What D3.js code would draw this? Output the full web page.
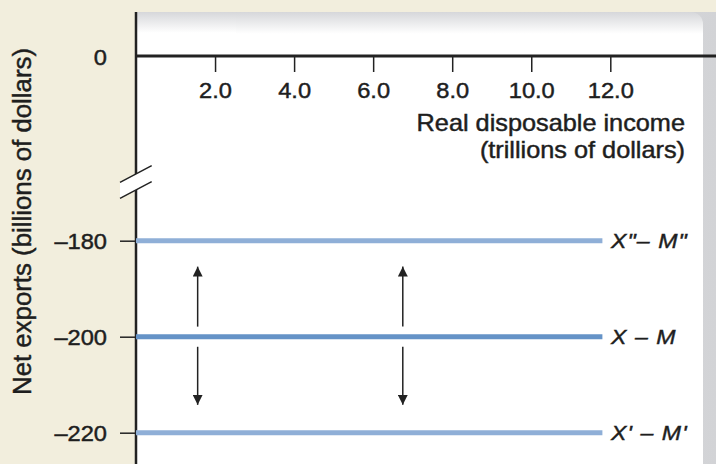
<!DOCTYPE html>
<html><head><meta charset="utf-8">
<script src="https://cdn.jsdelivr.net/npm/d3@7"></script>
<style>html,body{margin:0;padding:0;background:#f2eedd;}svg{display:block;}
text{stroke:#1e1e1e;stroke-width:0.45px;fill:#1e1e1e;}</style>
</head><body>
<script>
// ---- data ----
const xTickValues = [2, 4, 6, 8, 10, 12];
const xTickLabels = ["2.0", "4.0", "6.0", "8.0", "10.0", "12.0"];
const yTickValues = [-180, -200, -220];
const yTickLabels = ["\u2013180", "\u2013200", "\u2013220"];
const seriesNames = ["X\"\u2013 M\"", "X \u2013 M", "X'\u00a0\u2013\u00a0M'"];
const seriesValues = [-180, -200, -220];
const seriesColors = ["#8fafd7", "#6593c7", "#8fafd7"];
const lineXExtent = [0, 11.8];
const arrowXs = [1.56, 6.75];
const arrowUp = [-197.9, -185.4];
const arrowDown = [-202.1, -214.2];

const W = 716, H = 464;
const SX = 1.1; // horizontal text stretch of the original artwork
const svg = d3.select("body").append("svg").attr("width", W).attr("height", H);
const defs = svg.append("defs");

const x = d3.scaleLinear().domain([0, 12]).range([136, 610.3]);
const y = d3.scaleLinear().domain([-220, -180, 0]).range([432.7, 240.7, 56]);

// background
svg.append("rect").attr("width", W).attr("height", H).attr("fill", "#f2eedd");
const gTop = defs.append("linearGradient").attr("id", "gTop").attr("x1", 0).attr("y1", 0).attr("x2", 0).attr("y2", 1);
gTop.append("stop").attr("offset", 0).attr("stop-color", "#d6d7da");
gTop.append("stop").attr("offset", 0.045).attr("stop-color", "#ffffff");
gTop.append("stop").attr("offset", 1).attr("stop-color", "#ffffff");
const gRight = defs.append("linearGradient").attr("id", "gRight").attr("x1", 0).attr("y1", 0).attr("x2", 1).attr("y2", 0);
gRight.append("stop").attr("offset", 0).attr("stop-color", "#eeeff0");
gRight.append("stop").attr("offset", 1).attr("stop-color", "#d2d3d6");
svg.append("rect").attr("x", 136).attr("y", 12).attr("width", W - 136).attr("height", H - 12).attr("fill", "url(#gRight)");
svg.append("rect").attr("x", 136).attr("y", 12).attr("width", 703 - 136).attr("height", H + 20)
  .attr("rx", 12).attr("fill", "url(#gTop)");
svg.append("rect").attr("x", 136).attr("y", 12).attr("width", 100).attr("height", H).attr("fill", "url(#gTop)");

const font = "'Liberation Sans', Arial, Helvetica, sans-serif";

function stretchedText(px, py, size, str, anchor, italic) {
  const t = svg.append("text").attr("transform", `translate(${px},${py}) scale(${SX},1)`)
    .attr("text-anchor", anchor).attr("font-family", font).attr("font-size", size).text(str);
  if (italic) t.attr("font-style", "italic");
  return t;
}

// x axis
const xAxis = d3.axisBottom(x).tickValues(xTickValues).tickSize(16).tickFormat((d, i) => xTickLabels[i]).tickSizeOuter(0);
const gx = svg.append("g").attr("transform", `translate(0,${y(0)})`).call(xAxis);
gx.select(".domain").remove();
gx.selectAll(".tick line").attr("stroke", "#222").attr("stroke-width", 1.5);
gx.selectAll(".tick text").attr("font-family", font).attr("font-size", 21.5)
  .attr("y", 42.5).attr("dy", 0).attr("transform", `scale(${SX},1)`);
svg.append("line").attr("x1", 136).attr("x2", W).attr("y1", y(0)).attr("y2", y(0))
  .attr("stroke", "#222").attr("stroke-width", 3);

// y axis
const yAxis = d3.axisLeft(y).tickValues(yTickValues).tickSize(16).tickFormat((d, i) => yTickLabels[i]).tickSizeOuter(0);
const gy = svg.append("g").attr("transform", "translate(136,0)").call(yAxis);
gy.select(".domain").remove();
gy.selectAll(".tick line").attr("stroke", "#222").attr("stroke-width", 1.5);
gy.selectAll(".tick text").attr("font-family", font).attr("font-size", 21.5)
  .attr("x", -29 / SX).attr("dy", "0.38em").attr("transform", `scale(${SX},1)`);
stretchedText(107, y(0), 21.5, "0", "end").attr("dy", "0.4em");
svg.append("line").attr("x1", 136).attr("x2", 136).attr("y1", 12).attr("y2", H)
  .attr("stroke", "#222").attr("stroke-width", 2.5);

// axis break
svg.append("path").attr("d", "M120,182.3 L151.7,165.7 L151.7,181.7 L120,198.3 Z").attr("fill", "#fff");
svg.append("path").attr("d", "M120,182.3 L151.7,165.7 M120,198.3 L151.7,181.7")
  .attr("stroke", "#222").attr("stroke-width", 1.5).attr("fill", "none");

// axis titles
stretchedText(685, 130.5, 23, "Real disposable income", "end");
stretchedText(685, 157.5, 23, "(trillions of dollars)", "end");
svg.append("text").attr("transform", "translate(31,221.5) rotate(-90)").attr("text-anchor", "middle")
  .attr("font-family", font).attr("font-size", 25.8).text("Net exports (billions of dollars)");

// lines
seriesValues.forEach((v, i) => {
  svg.append("line").attr("x1", x(lineXExtent[0])).attr("x2", x(lineXExtent[1]))
    .attr("y1", y(v)).attr("y2", y(v)).attr("stroke", seriesColors[i]).attr("stroke-width", 5);
  stretchedText(x(lineXExtent[1]) + 8.5, y(v), 21, seriesNames[i], "start", true)
    .attr("dy", "0.36em").attr("letter-spacing", 1);
});

// arrows
defs.append("marker").attr("id", "ah").attr("viewBox", "0 0 10 10").attr("refX", 10).attr("refY", 5)
  .attr("markerWidth", 10).attr("markerHeight", 10).attr("markerUnits", "userSpaceOnUse").attr("orient", "auto")
  .append("path").attr("d", "M0,0 L10,5 L0,10 Z").attr("fill", "#222");
arrowXs.forEach(ax => {
  [arrowUp, arrowDown].forEach(seg => {
    svg.append("line").attr("x1", x(ax)).attr("x2", x(ax)).attr("y1", y(seg[0])).attr("y2", y(seg[1]))
      .attr("stroke", "#222").attr("stroke-width", 1.5).attr("marker-end", "url(#ah)");
  });
});
</script>
</body></html>
